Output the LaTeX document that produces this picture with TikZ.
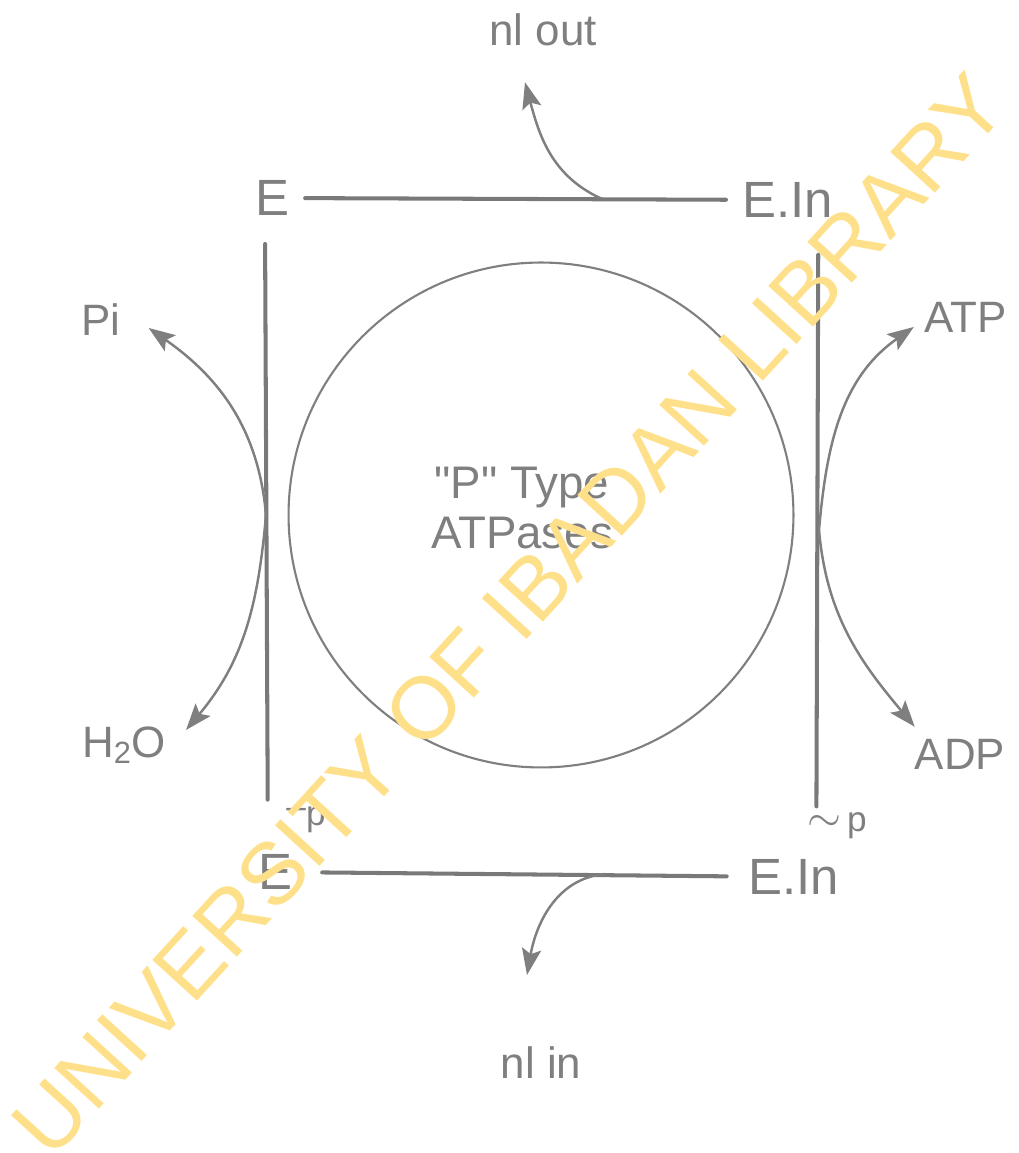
\documentclass[tikz,border=0pt]{standalone}
\usepackage{fontspec}
\newfontfamily\labelfont{Liberation Sans}
\usetikzlibrary{arrows.meta, positioning}
\definecolor{pencil}{HTML}{7F7F7F}
\definecolor{stamp}{HTML}{FFE08A}
\tikzset{
  >={Stealth[length=15pt, width=11pt, inset=3pt]},
  every picture/.style={line cap=round, line join=round},
  px/.style={x=0.02cm, y=0.02cm},
  lbl/.style={text=pencil, inner sep=1pt, font=\labelfont\fontsize{25}{30}\selectfont},
  enz/.style={lbl, font=\labelfont\fontsize{29}{30}\selectfont},
  tag/.style={lbl, font=\labelfont\fontsize{20}{22}\selectfont},
  edge/.style={pencil!95!black, line width=2.3pt},
  flux/.style={pencil, line width=1.4pt, ->},
}

\begin{document}
\begin{tikzpicture}[px]
  \useasboundingbox (0,0) rectangle (1018,1153);
  % enzyme states at the corners
  \node[enz] (eTL) at (272,955) {E};
  \node[enz, anchor=west] (eTR) at (740,953) {E.In};
  \node[enz] (eBL) at (275,281) {E};
  \node[enz, anchor=west] (eBR) at (746,276) {E.In};
  \node[tag] (pL) at (306,333) {\raisebox{0.22em}{\textendash}p};
  \node[tag] (pR) at (837,327) {{\fontsize{32}{32}\selectfont$\sim$}\,p};
  % what goes in and out
  \node[lbl] (nlout) at (543,1123) {nl out};
  \node[lbl] (nlin) at (541,90) {nl in};
  \node[lbl] (pi) at (101,833) {Pi};
  \node[lbl] (h2o) at (124,408) {H\textsubscript{2}O};
  \node[lbl] (atp) at (966,836) {ATP};
  \node[lbl] (adp) at (960,399) {ADP};
  \node[draw=pencil, circle, line width=1.2pt, minimum size=10.1cm, inner sep=0pt] (pump) at (541,638) {};
  \node[lbl, align=center, font=\labelfont\fontsize{26}{29}\selectfont] (ptype) at (522,645) {"P" Type\\ATPases};
  % the cycle
  \draw[edge, shorten <=8pt, shorten >=8pt] (eTL) -- (eTR);
  \draw[edge, shorten <=16pt, shorten >=11pt] (eBL) -- (eBR);
  \draw[edge, shorten <=15pt, shorten >=30pt] ([xshift=-4pt]eTL.south) -- ([xshift=-4pt]eBL.north);
  \draw[edge, shorten <=20pt, shorten >=29pt] ([xshift=17.6pt]eTR.south) -- ([xshift=13pt]eBR.north);
  \coordinate (jTop) at (600,955);
  \coordinate (jBot) at (605,279);
  \coordinate (jL) at (266,638);
  \coordinate (jR) at (819,623);
  \draw[flux] (jTop) to[out=155, in=-75] ([shift={(-18,-34)}]nlout.south);
  \draw[flux] (jBot) to[out=185, in=80] ([shift={(-14,70)}]nlin.north);
  \draw[flux] (jL) to[out=95, in=-35] ([shift={(26,-8)}]pi.east);
  \draw[flux] (jL) to[out=-95, in=50] ([shift={(18,15)}]h2o.east);
  \draw[flux] (jR) to[out=85, in=-145] ([shift={(-9,-10)}]atp.west);
  \draw[flux] (jR) to[out=-85, in=130] ([shift={(2,10)}]adp.north west);
  % library stamp over the scan
  \node[text=stamp, rotate=47.6, inner sep=0pt, font=\labelfont\fontsize{50}{50}\selectfont] (mark) at (509,538) {UNIVERSITY OF IBADAN LIBRARY};
\end{tikzpicture}
\end{document}
